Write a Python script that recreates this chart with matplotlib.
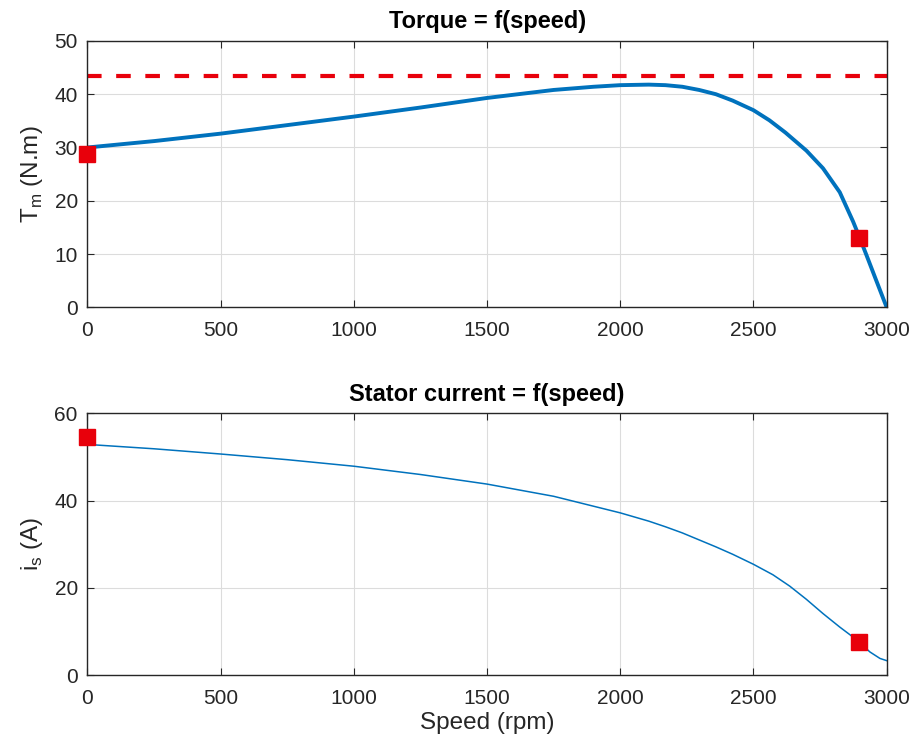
import numpy as np
import matplotlib.pyplot as plt

plt.rcParams['font.family'] = ['Liberation Sans', 'DejaVu Sans']

# values
speed_t = [0, 250, 500, 750, 1000, 1250, 1500, 1750, 1900, 2000, 2107, 2170, 2233,
           2296, 2359, 2422, 2500, 2560, 2620, 2699, 2761, 2824, 2874, 2900, 2925,
           2962, 3000]
torque = [30.0, 31.2, 32.6, 34.2, 35.8, 37.5, 39.3, 40.8, 41.4, 41.7, 41.8, 41.7, 41.4,
          40.8, 40.0, 38.8, 37.0, 35.1, 32.8, 29.4, 26.1, 21.6, 16.1, 12.9, 9.7,
          4.9, 0.0]
torque_max = 43.5
torque_pts_x = [0, 2895]
torque_pts_y = [28.8, 13.1]

speed_i = [0, 250, 500, 750, 1000, 1250, 1500, 1750, 2000, 2107, 2170, 2233, 2296,
           2359, 2422, 2500, 2573, 2636, 2698, 2761, 2824, 2874, 2896, 2937, 2975, 3000]
current = [52.9, 51.9, 50.7, 49.4, 47.9, 46.0, 43.8, 41.0, 37.2, 35.3, 34.0, 32.6, 31.0,
           29.4, 27.7, 25.4, 23.0, 20.4, 17.4, 14.1, 11.0, 8.7, 7.6, 5.3, 3.8, 3.3]
current_pts_x = [0, 2895]
current_pts_y = [54.7, 7.6]

blue = '#0072BD'
red = '#E8000B'
txt = '#262626'

fig = plt.figure(figsize=(9.17, 7.43), dpi=100)
ax1 = fig.add_axes([0.0954, 0.5864, 0.8715, 0.3585])
ax2 = fig.add_axes([0.0954, 0.0915, 0.8715, 0.352])


def style(ax, yticks):
    ax.set_xlim(0, 3000)
    ax.set_xticks([0, 500, 1000, 1500, 2000, 2500, 3000])
    ax.set_yticks(yticks)
    ax.set_ylim(yticks[0], yticks[-1])
    ax.grid(True, color='#dcdcdc', linewidth=0.8)
    ax.set_axisbelow(True)
    ax.tick_params(direction='in', top=True, right=True, length=5,
                   labelsize=15, colors=txt)
    ax.tick_params(axis='x', pad=10)
    ax.tick_params(axis='y', pad=7)
    for s in ax.spines.values():
        s.set_color(txt)
        s.set_linewidth(1.0)


ax1.plot(speed_t, torque, color=blue, linewidth=2.8)
ax1.axhline(torque_max, color=red, linewidth=3, linestyle=(0, (3.5, 3.5)))
ax1.plot(torque_pts_x, torque_pts_y, 's', color=red, markersize=11, clip_on=False, zorder=5)
style(ax1, [0, 10, 20, 30, 40, 50])
ax1.set_title('Torque = f(speed)', fontsize=17, fontweight='bold', pad=9)
ax1.set_ylabel(r'T$_\mathregular{m}$ (N.m)', fontsize=17.5, color=txt, labelpad=7)

ax2.plot(speed_i, current, color=blue, linewidth=1.1)
ax2.plot(current_pts_x, current_pts_y, 's', color=red, markersize=11, clip_on=False, zorder=5)
style(ax2, [0, 20, 40, 60])
ax2.set_title('Stator current = f(speed)', fontsize=17, fontweight='bold', pad=9)
ax2.set_ylabel(r'i$_\mathregular{s}$ (A)', fontsize=17.5, color=txt, labelpad=7)
ax2.set_xlabel('Speed (rpm)', fontsize=17.5, color=txt, labelpad=3)

fig.savefig('out.png', dpi=100)
